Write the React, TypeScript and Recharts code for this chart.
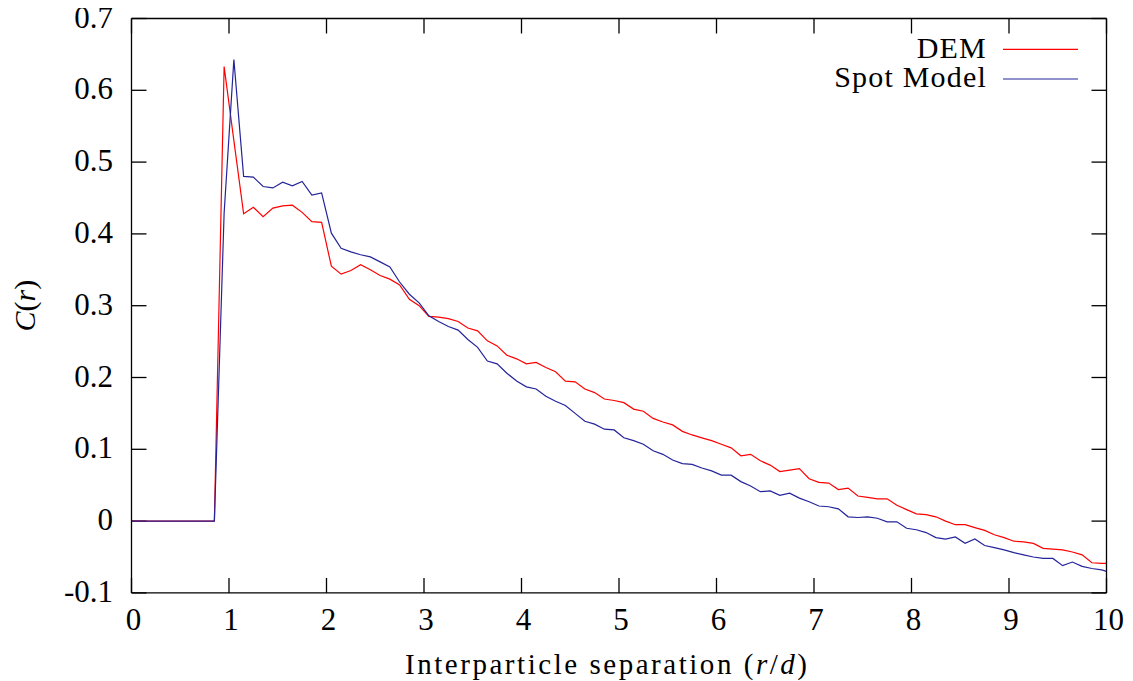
import React from 'react';
import { LineChart, Line, XAxis, YAxis, Legend, Label, ReferenceLine } from 'recharts';

const rValues = [
  0, 0.05, 0.15, 0.25, 0.35, 0.45, 0.55, 0.65, 0.75, 0.85,
  0.95, 1.05, 1.15, 1.25, 1.35, 1.45, 1.55, 1.65, 1.75, 1.85,
  1.95, 2.05, 2.15, 2.25, 2.35, 2.45, 2.55, 2.65, 2.75, 2.85,
  2.95, 3.05, 3.15, 3.25, 3.35, 3.45, 3.55, 3.65, 3.75, 3.85,
  3.95, 4.05, 4.15, 4.25, 4.35, 4.45, 4.55, 4.65, 4.75, 4.85,
  4.95, 5.05, 5.15, 5.25, 5.35, 5.45, 5.55, 5.65, 5.75, 5.85,
  5.95, 6.05, 6.15, 6.25, 6.35, 6.45, 6.55, 6.65, 6.75, 6.85,
  6.95, 7.05, 7.15, 7.25, 7.35, 7.45, 7.55, 7.65, 7.75, 7.85,
  7.95, 8.05, 8.15, 8.25, 8.35, 8.45, 8.55, 8.65, 8.75, 8.85,
  8.95, 9.05, 9.15, 9.25, 9.35, 9.45, 9.55, 9.65, 9.75, 9.85,
  9.95, 10,
];

const demValues = [
  0, 0, 0, 0, 0, 0, 0, 0, 0, 0,
  0.633, 0.53, 0.428, 0.437, 0.424, 0.436, 0.439, 0.44, 0.43, 0.417,
  0.416, 0.355, 0.344, 0.349, 0.357, 0.35, 0.342, 0.337, 0.329, 0.309,
  0.3, 0.285, 0.284, 0.282, 0.278, 0.269, 0.265, 0.251, 0.244, 0.231,
  0.226, 0.219, 0.221, 0.214, 0.208, 0.195, 0.194, 0.184, 0.179, 0.17,
  0.168, 0.165, 0.156, 0.153, 0.143, 0.138, 0.134, 0.125, 0.12, 0.116,
  0.112, 0.107, 0.102, 0.091, 0.093, 0.084, 0.078, 0.069, 0.071, 0.073,
  0.059, 0.054, 0.053, 0.044, 0.046, 0.035, 0.033, 0.031, 0.031, 0.022,
  0.016, 0.01, 0.009, 0.006, 0.0, -0.005, -0.005, -0.009, -0.013, -0.019,
  -0.023, -0.028, -0.029, -0.031, -0.038, -0.039, -0.04, -0.043, -0.047, -0.058,
  -0.059, -0.059,
];

const spotValues = [
  0, 0, 0, 0, 0, 0, 0, 0, 0, 0,
  0.429, 0.643, 0.48, 0.479, 0.466, 0.464, 0.472, 0.467, 0.473, 0.454,
  0.457, 0.401, 0.38, 0.375, 0.371, 0.368, 0.361, 0.354, 0.333, 0.316,
  0.304, 0.286, 0.278, 0.271, 0.266, 0.253, 0.242, 0.223, 0.219, 0.206,
  0.195, 0.187, 0.184, 0.174, 0.167, 0.161, 0.15, 0.139, 0.135, 0.128,
  0.127, 0.116, 0.112, 0.107, 0.098, 0.093, 0.085, 0.08, 0.079, 0.074,
  0.07, 0.064, 0.064, 0.055, 0.049, 0.041, 0.042, 0.036, 0.039, 0.032,
  0.027, 0.021, 0.02, 0.017, 0.006, 0.005, 0.006, 0.004, -0.001, -0.001,
  -0.01, -0.012, -0.016, -0.023, -0.025, -0.022, -0.031, -0.025, -0.034, -0.037,
  -0.04, -0.044, -0.047, -0.05, -0.052, -0.052, -0.062, -0.057, -0.063, -0.066,
  -0.068, -0.07,
];

const xTicks = [0, 1, 2, 3, 4, 5, 6, 7, 8, 9, 10];
const yTicks = [-0.1, 0, 0.1, 0.2, 0.3, 0.4, 0.5, 0.6, 0.7];
const yTickLabels = ['-0.1', '0', '0.1', '0.2', '0.3', '0.4', '0.5', '0.6', '0.7'];
const xDomain = [0, 10];
const yDomain = [-0.1, 0.7];

const seriesNames = ['DEM', 'Spot Model'];
const seriesColors = ['#ff0000', '#24249a'];

const data = rValues.map((r, i) => ({ r, dem: demValues[i], spot: spotValues[i] }));

const FONT = "'Liberation Serif', 'DejaVu Serif', serif";
const W = 1133;
const H = 681;
const MARGIN = { top: 17.5, right: 25.5, bottom: 8.1, left: 21.5 };
const X_AXIS_H = 80;
const Y_AXIS_W = 110;
const PLOT_W = W - MARGIN.left - MARGIN.right - Y_AXIS_W - 1;
const PLOT_H = H - MARGIN.top - MARGIN.bottom - X_AXIS_H - 1;
const TICK_PX = 15;
// tick length converted into axis units so the ticks are drawn through the axes' scales
const TICK_DX = (TICK_PX * (xDomain[1] - xDomain[0])) / PLOT_W;
const TICK_DY = (TICK_PX * (yDomain[1] - yDomain[0])) / PLOT_H;
const BOTTOM_GAP = 10;
const LEFT_GAP = 10;

const BottomTick = (props: any) => {
  const x = Number(props.x);
  const y = Number(props.y);
  const axisY = y - BOTTOM_GAP;
  return (
    <text x={x + 2} y={axisY + 37} textAnchor="middle" fontFamily={FONT} fontSize={31} fill="#000">
      {props.payload.value}
    </text>
  );
};

const LeftTick = (props: any) => {
  const x = Number(props.x);
  const y = Number(props.y);
  const axisX = x + LEFT_GAP;
  const v = props.payload.value;
  const label = yTickLabels[yTicks.indexOf(v)] ?? String(v);
  return (
    <text x={axisX - 18.5} y={y - 2} dy="0.355em" textAnchor="end" fontFamily={FONT} fontSize={31} fill="#000">
      {label}
    </text>
  );
};

const XTitle = (props: any) => {
  const vb = props.viewBox || {};
  const cx = vb.x + vb.width / 2 - 13;
  const y = vb.y + 81;
  return (
    <text x={cx} y={y} textAnchor="middle" fontFamily={FONT} fontSize={29} fill="#000" textLength={402} lengthAdjust="spacing">
      Interparticle separation (<tspan fontStyle="italic">r</tspan>/<tspan fontStyle="italic">d</tspan>)
    </text>
  );
};

const YTitle = (props: any) => {
  const vb = props.viewBox || {};
  const cx = vb.x + 14;
  const cy = vb.y + vb.height / 2;
  return (
    <text x={cx} y={cy} transform={`rotate(-90, ${cx}, ${cy})`} textAnchor="middle" fontFamily={FONT} fontSize={30} fill="#000">
      <tspan fontStyle="italic">C</tspan>(<tspan fontStyle="italic">r</tspan>)
    </text>
  );
};

const LegendBox = () => {
  const rows = [
    { y: 58.3, ly: 49.3 },
    { y: 86.7, ly: 79 },
  ];
  return (
    <svg width={W} height={H} style={{ position: 'absolute', left: 0, top: 0, pointerEvents: 'none' }}>
      {seriesNames.map((n, i) => (
        <g key={n}>
          <text x={987} y={rows[i].y} textAnchor="end" fontFamily={FONT} fontSize={30} letterSpacing={1.2} fill="#000">{n}</text>
          <line x1={1003} x2={1078} y1={rows[i].ly} y2={rows[i].ly} stroke={seriesColors[i]} strokeWidth={1.2} />
        </g>
      ))}
    </svg>
  );
};

const tickLineProps = { stroke: '#000', strokeWidth: 1.3, ifOverflow: 'visible' as const, xAxisId: 'bottom', yAxisId: 'left' };

export default function App() {
  return (
    <div style={{ width: W, height: H, position: 'relative', margin: '-8px 0 0 -8px' }}>
      <LineChart width={W} height={H} data={data} margin={MARGIN}>
        <XAxis
          xAxisId="bottom"
          dataKey="r"
          type="number"
          domain={xDomain}
          ticks={xTicks}
          interval={0}
          height={X_AXIS_H}
          axisLine={{ stroke: '#000', strokeWidth: 1.3 }}
          tickLine={false}
          tickSize={0}
          tickMargin={BOTTOM_GAP}
          tick={BottomTick}
        >
          <Label content={XTitle} />
        </XAxis>
        <XAxis
          xAxisId="top"
          dataKey="r"
          type="number"
          orientation="top"
          domain={xDomain}
          ticks={xTicks}
          height={1}
          axisLine={{ stroke: '#000', strokeWidth: 1.3 }}
          tickLine={false}
          tick={false}
        />
        <YAxis
          yAxisId="left"
          type="number"
          domain={yDomain}
          ticks={yTicks}
          interval={0}
          width={Y_AXIS_W}
          axisLine={{ stroke: '#000', strokeWidth: 1.3 }}
          tickLine={false}
          tickSize={0}
          tickMargin={LEFT_GAP}
          tick={LeftTick}
        >
          <Label content={YTitle} />
        </YAxis>
        <YAxis
          yAxisId="right"
          type="number"
          orientation="right"
          domain={yDomain}
          ticks={yTicks}
          width={1}
          axisLine={{ stroke: '#000', strokeWidth: 1.3 }}
          tickLine={false}
          tick={false}
        />
        {xTicks.map((t) => (
          <ReferenceLine
            key={`xb${t}`}
            {...tickLineProps}
            segment={[{ x: t, y: yDomain[0] }, { x: t, y: yDomain[0] + TICK_DY }]}
          />
        ))}
        {xTicks.map((t) => (
          <ReferenceLine
            key={`xt${t}`}
            {...tickLineProps}
            segment={[{ x: t, y: yDomain[1] }, { x: t, y: yDomain[1] - TICK_DY }]}
          />
        ))}
        {yTicks.map((t) => (
          <ReferenceLine
            key={`yl${t}`}
            {...tickLineProps}
            segment={[{ x: xDomain[0], y: t }, { x: xDomain[0] + TICK_DX, y: t }]}
          />
        ))}
        {yTicks.map((t) => (
          <ReferenceLine
            key={`yr${t}`}
            {...tickLineProps}
            segment={[{ x: xDomain[1], y: t }, { x: xDomain[1] - TICK_DX, y: t }]}
          />
        ))}
        <Legend
          layout="horizontal"
          verticalAlign="middle"
          align="center"
          wrapperStyle={{ position: 'absolute', left: 0, top: 0, width: W, height: H, pointerEvents: 'none' }}
          content={LegendBox}
        />
        <Line
          xAxisId="bottom"
          yAxisId="left"
          type="linear"
          dataKey="dem"
          name={seriesNames[0]}
          stroke={seriesColors[0]}
          strokeWidth={1.2}
          dot={false}
          isAnimationActive={false}
        />
        <Line
          xAxisId="bottom"
          yAxisId="left"
          type="linear"
          dataKey="spot"
          name={seriesNames[1]}
          stroke={seriesColors[1]}
          strokeWidth={1.2}
          dot={false}
          isAnimationActive={false}
        />
      </LineChart>
    </div>
  );
}
